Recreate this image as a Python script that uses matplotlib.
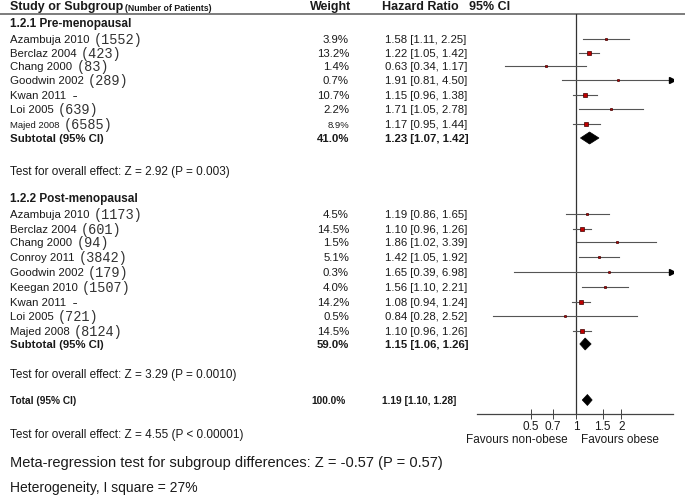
import numpy as np
import matplotlib.pyplot as plt
from matplotlib.patches import Polygon

# ---- data ----
pre_studies = ["Azambuja 2010", "Berclaz 2004", "Chang 2000", "Goodwin 2002",
               "Kwan 2011", "Loi 2005", "Majed 2008"]
pre_n = ["(1552)", "(423)", "(83)", "(289)", "-", "(639)", "(6585)"]
pre_weight = [3.9, 13.2, 1.4, 0.7, 10.7, 2.2, 8.9]
pre_hr = [1.58, 1.22, 0.63, 1.91, 1.15, 1.71, 1.17]
pre_lo = [1.11, 1.05, 0.34, 0.81, 0.96, 1.05, 0.95]
pre_hi = [2.25, 1.42, 1.17, 4.50, 1.38, 2.78, 1.44]
pre_sub = [41.0, 1.23, 1.07, 1.42]

post_studies = ["Azambuja 2010", "Berclaz 2004", "Chang 2000", "Conroy 2011",
                "Goodwin 2002", "Keegan 2010", "Kwan 2011", "Loi 2005", "Majed 2008"]
post_n = ["(1173)", "(601)", "(94)", "(3842)", "(179)", "(1507)", "-", "(721)", "(8124)"]
post_weight = [4.5, 14.5, 1.5, 5.1, 0.3, 4.0, 14.2, 0.5, 14.5]
post_hr = [1.19, 1.10, 1.86, 1.42, 1.65, 1.56, 1.08, 0.84, 1.10]
post_lo = [0.86, 0.96, 1.02, 1.05, 0.39, 1.10, 0.94, 0.28, 0.96]
post_hi = [1.65, 1.26, 3.39, 1.92, 6.98, 2.21, 1.24, 2.52, 1.26]
post_sub = [59.0, 1.15, 1.06, 1.26]

total = [100.0, 1.19, 1.10, 1.28]

tick_vals = [0.5, 0.7, 1, 1.5, 2]
tick_labels = ["0.5", "0.7", "1", "1.5", "2"]

# ---- layout (pixel rows) ----
W, H = 685, 502
pre_y = [40, 54, 67, 81, 96, 110, 125]
pre_sub_y = 139
post_y = [215, 230, 243, 258, 273, 288, 303, 317, 332]
post_sub_y = 345
total_y = 401
ax_left, ax_right, ax_top, ax_bot = 477, 673, 15, 415
xmin, xmax = 0.221, 4.39

SANS = "Liberation Sans"
MONO = "Liberation Mono"
TXT = "#1a1a1a"
TEST_FS = 8.5

fig = plt.figure(figsize=(W / 100, H / 100), dpi=100)
ax = fig.add_axes([0, 0, 1, 1])
ax.set_xlim(0, W)
ax.set_ylim(H, 0)
ax.axis("off")

fax = fig.add_axes([ax_left / W, (H - ax_bot) / H, (ax_right - ax_left) / W, (ax_bot - ax_top) / H])
fax.set_xscale("log")
fax.set_xlim(xmin, xmax)
fax.set_ylim(ax_bot, ax_top)
fax.patch.set_visible(False)
for s in ["top", "right", "left"]:
    fax.spines[s].set_visible(False)
fax.spines["bottom"].set_color("#444")
fax.spines["bottom"].set_linewidth(0.9)
fax.set_yticks([])
fax.set_xticks(tick_vals)
fax.set_xticklabels(tick_labels)
fax.minorticks_off()
fax.tick_params(axis="x", direction="inout", length=7, width=0.7, color="#444",
                labelsize=8.5, pad=1, labelcolor=TXT)
for lab in fax.get_xticklabels():
    lab.set_fontfamily(SANS)
fax.axvline(1, color="#333", lw=0.9)

# header
ax.plot([0, W], [15, 15], color="#666", lw=1.2)
t = ax.text(10, 7, "Study or Subgroup", fontsize=9, fontweight="bold", family=SANS,
            va="center", color=TXT)
ax.annotate("(Number of Patients)", xy=(1, 0.5), xycoords=t, xytext=(1, -1),
            textcoords="offset points", fontsize=6.3, fontweight="bold",
            family=SANS, va="center", color=TXT)
ax.text(351, 7, "Weight", fontsize=9, fontweight="bold", family=SANS, va="center",
        ha="right", color=TXT)
ax.text(382, 7, "Hazard Ratio   95% CI", fontsize=9, fontweight="bold", family=SANS,
        va="center", color=TXT)


def study_rows(names, ns, weights, hrs, los, his, ys, small=()):
    for i, (nm, n, w, hr, lo, hi, y) in enumerate(zip(names, ns, weights, hrs, los, his, ys)):
        fs = 6.8 if i in small else 8.2
        t = ax.text(10, y, nm, fontsize=fs, family=SANS, va="center", color=TXT)
        ax.annotate(n, xy=(1, 0.5), xycoords=t, xytext=(3, 0), textcoords="offset points",
                    fontsize=9.8, family=MONO, va="center", color="#333")
        ax.text(349, y, f"{w:.1f}%", fontsize=fs, family=SANS, va="center",
                ha="right", color=TXT)
        ax.text(385, y, f"{hr:.2f} [{lo:.2f}, {hi:.2f}]", fontsize=8.2, family=SANS,
                va="center", color=TXT)
        # CI line, with arrow when it runs past the axis
        if hi > xmax:
            fax.plot([lo, xmax * 0.985], [y, y], color="#555", lw=0.8)
            fax.plot([xmax * 0.985], [y], marker=">", color="black", ms=5, mec="black")
        else:
            fax.plot([lo, hi], [y, y], color="#555", lw=0.8)
        side = (1.8 + 0.2 * w) * 0.72
        fax.plot([hr], [y], marker="s", ms=side, mfc="#c00000", mec="#400000", mew=0.5)


def summary_row(label, vals, y, fs=8.2, half=6):
    w, hr, lo, hi = vals
    ax.text(10, y, label, fontsize=fs, fontweight="bold", family=SANS, va="center", color=TXT)
    ax.text(349 if fs > 7.5 else 346, y, f"{w:.1f}%", fontsize=fs, fontweight="bold",
            family=SANS, va="center", ha="right", color=TXT)
    ax.text(385 if fs > 7.5 else 382, y, f"{hr:.2f} [{lo:.2f}, {hi:.2f}]", fontsize=fs,
            fontweight="bold", family=SANS, va="center", color=TXT)
    fax.add_patch(Polygon([(lo, y), (hr, y - half), (hi, y), (hr, y + half)],
                          closed=True, fc="black", ec="black", lw=0.5))


ax.text(10, 24, "1.2.1 Pre-menopausal", fontsize=8.5, fontweight="bold", family=SANS,
        va="center", color=TXT)
study_rows(pre_studies, pre_n, pre_weight, pre_hr, pre_lo, pre_hi, pre_y, small=(6,))
summary_row("Subtotal (95% CI)", pre_sub, pre_sub_y)
ax.text(10, 172, "Test for overall effect: Z = 2.92 (P = 0.003)", fontsize=TEST_FS,
        family=SANS, va="center", color=TXT)

ax.text(10, 199, "1.2.2 Post-menopausal", fontsize=8.5, fontweight="bold", family=SANS,
        va="center", color=TXT)
study_rows(post_studies, post_n, post_weight, post_hr, post_lo, post_hi, post_y)
summary_row("Subtotal (95% CI)", post_sub, post_sub_y)
ax.text(10, 375, "Test for overall effect: Z = 3.29 (P = 0.0010)", fontsize=TEST_FS,
        family=SANS, va="center", color=TXT)

summary_row("Total (95% CI)", total, total_y, fs=7.3, half=5.5)
ax.text(10, 435, "Test for overall effect: Z = 4.55 (P < 0.00001)", fontsize=TEST_FS,
        family=SANS, va="center", color=TXT)

ax.text(568, 440, "Favours non-obese", fontsize=8.5, family=SANS, va="center",
        ha="right", color=TXT)
ax.text(581, 440, "Favours obese", fontsize=8.5, family=SANS, va="center", color=TXT)

ax.text(10, 463, "Meta-regression test for subgroup differences: Z = -0.57 (P = 0.57)",
        fontsize=10.5, family=SANS, va="center", color=TXT)
ax.text(10, 488, "Heterogeneity, I square = 27%", fontsize=10, family=SANS,
        va="center", color=TXT)

fig.savefig("out.png", dpi=100)
